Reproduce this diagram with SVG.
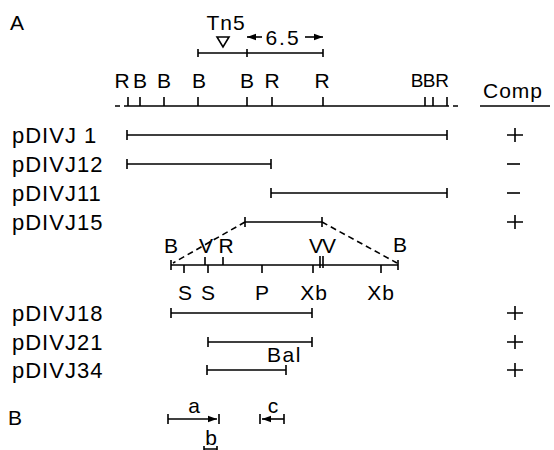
<svg xmlns="http://www.w3.org/2000/svg" width="554" height="450" viewBox="0 0 554 450">
  <defs>
    <style>
      .t { font-family: "Liberation Sans", Arial, sans-serif; font-size: 21px; fill: #000; }
      .lbl { font-size: 22px; letter-spacing: 1px; }
      .c { text-anchor: middle; }
      .ln { stroke: #000; stroke-width: 1.6; fill: none; }
      .dash { stroke: #000; stroke-width: 1.6; fill: none; stroke-dasharray: 6 4; }
    </style>
    <marker id="head" viewBox="0 0 10 10" refX="10" refY="5" markerWidth="9" markerHeight="9" markerUnits="userSpaceOnUse" orient="auto">
      <path d="M0,1.5 L10,5 L0,8.5 Z" fill="#000"/>
    </marker>
  </defs>

  <rect width="554" height="450" fill="#fff"/>

  <!-- Panel A -->
  <text class="t" x="10" y="30">A</text>

  <!-- Tn5 insertion and 6.5 kb scale -->
  <g id="tn5">
    <text class="t c" x="226" y="30" style="letter-spacing:1px">Tn5</text>
    <path class="ln" d="M217,37 L229,37 L223,47 Z"/>
  </g>
  <g id="scale65">
    <text class="t c" x="283" y="45" style="letter-spacing:2px">6.5</text>
    <line class="ln" x1="262" y1="37" x2="247" y2="37" marker-end="url(#head)"/>
    <line class="ln" x1="305" y1="37" x2="323" y2="37" marker-end="url(#head)"/>
    <path class="ln" d="M198,53 H323 M198,49 V57 M247,49 V57 M323,49 V57"/>
  </g>

  <!-- Restriction map of the region -->
  <g id="map-top">
    <path class="ln" d="M115,106 H120 M124,106 H449 M453,106 H458"/>
    <path class="ln" d="M128,97 V106 M140,97 V106 M164,97 V106 M198,97 V106 M247,97 V106 M272,97 V106 M323,97 V106 M425,97 V106 M433,97 V106 M447,97 V106"/>
    <g class="t c">
      <text x="122" y="88">R</text>
      <text x="140" y="88">B</text>
      <text x="164" y="88">B</text>
      <text x="199" y="88">B</text>
      <text x="247" y="88">B</text>
      <text x="272" y="88">R</text>
      <text x="322" y="88">R</text>
    </g>
    <g class="t c" style="font-size:19px">
      <text x="417" y="87">B</text>
      <text x="429" y="87">B</text>
      <text x="442" y="87">R</text>
    </g>
  </g>

  <!-- Complementation column header -->
  <g id="comp-header">
    <text class="t" x="483" y="98" style="letter-spacing:1px">Comp</text>
    <line class="ln" x1="480" y1="106" x2="550" y2="106"/>
  </g>

  <!-- Clones -->
  <g id="pDIVJ1">
    <text class="t lbl" x="12" y="143">pDIVJ 1</text>
    <path class="ln" d="M127,135 H447 M127,130 V140 M447,130 V140"/>
    <path class="ln" d="M507,135 H523 M515,128 V142"/>
  </g>
  <g id="pDIVJ12">
    <text class="t lbl" x="12" y="172">pDIVJ12</text>
    <path class="ln" d="M127,164 H271 M127,159 V169 M271,159 V169"/>
    <path class="ln" d="M507,164 H520"/>
  </g>
  <g id="pDIVJ11">
    <text class="t lbl" x="12" y="201">pDIVJ11</text>
    <path class="ln" d="M271,193 H447 M271,188 V198 M447,188 V198"/>
    <path class="ln" d="M507,193 H520"/>
  </g>
  <g id="pDIVJ15">
    <text class="t lbl" x="12" y="230">pDIVJ15</text>
    <path class="ln" d="M245,222 H322 M245,217 V227 M322,217 V227"/>
    <path class="ln" d="M507,222 H523 M515,215 V229"/>
  </g>

  <!-- Expanded map of the pDIVJ15 insert -->
  <g id="map-detail">
    <path class="ln" d="M171,265 H398 M171,260 V270 M398,260 V270"/>
    <path class="ln" d="M205,257 V265 M223,257 V265 M320,256 V268 M323,256 V268"/>
    <path class="ln" d="M184,265 V273 M208,265 V273 M262,265 V273 M313,265 V273 M381,265 V273"/>
    <g class="t c">
      <text x="171" y="253">B</text>
      <text x="206" y="253">V</text>
      <text x="226" y="253">R</text>
      <text x="322" y="253" style="letter-spacing:-1px">VV</text>
      <text x="400" y="252">B</text>
      <text x="185" y="300">S</text>
      <text x="208" y="300">S</text>
      <text x="262" y="300">P</text>
      <text x="314" y="300" style="letter-spacing:1px">Xb</text>
      <text x="381" y="300" style="letter-spacing:1px">Xb</text>
    </g>
  </g>

  <!-- Connectors: expansion from pDIVJ15 to the detailed map -->
  <g id="connectors">
    <line class="dash" x1="245" y1="222" x2="173" y2="263"/>
    <line class="dash" x1="322" y1="222" x2="397" y2="263"/>
  </g>

  <g id="pDIVJ18">
    <text class="t lbl" x="12" y="321">pDIVJ18</text>
    <path class="ln" d="M171,313 H312 M171,308 V318 M312,308 V318"/>
    <path class="ln" d="M507,313 H523 M515,306 V320"/>
  </g>
  <g id="pDIVJ21">
    <text class="t lbl" x="12" y="350">pDIVJ21</text>
    <path class="ln" d="M208,342 H312 M208,337 V347 M312,337 V347"/>
    <path class="ln" d="M507,342 H523 M515,335 V349"/>
  </g>
  <g id="pDIVJ34">
    <text class="t lbl" x="12" y="378">pDIVJ34</text>
    <text class="t" x="267" y="362" style="letter-spacing:1.5px">Bal</text>
    <path class="ln" d="M207,370 H286 M207,365 V375 M286,365 V375"/>
    <path class="ln" d="M507,370 H523 M515,363 V377"/>
  </g>

  <!-- Panel B -->
  <text class="t" x="8" y="425">B</text>
  <g id="probe-a">
    <text class="t c" x="194" y="413">a</text>
    <line class="ln" x1="168" y1="419" x2="217" y2="419" marker-end="url(#head)"/>
    <path class="ln" d="M168,414 V424 M219,414 V424"/>
  </g>
  <g id="probe-b">
    <text class="t c" x="211" y="445">b</text>
    <path class="ln" d="M204,446 V450 M217,446 V450 M204,449 H217"/>
  </g>
  <g id="probe-c">
    <text class="t c" x="273" y="413">c</text>
    <line class="ln" x1="284" y1="419" x2="262" y2="419" marker-end="url(#head)"/>
    <path class="ln" d="M260,414 V424 M284,414 V424"/>
  </g>
</svg>
